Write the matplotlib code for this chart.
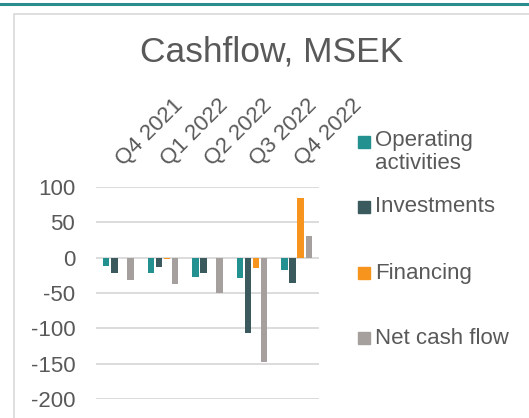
import matplotlib
matplotlib.use('Agg')
from matplotlib import pyplot as plt
from matplotlib.patches import Rectangle
from matplotlib.lines import Line2D
import matplotlib.transforms as mtransforms
import numpy as np

plt.rcParams['font.family'] = ['Liberation Sans', 'DejaVu Sans']

# data
quarters = ['Q4 2021', 'Q1 2022', 'Q2 2022', 'Q3 2022', 'Q4 2022']
series_names = ['Operating\nactivities', 'Investments', 'Financing', 'Net cash flow']
operating = [-12, -22, -28, -29, -17]
investments = [-22, -13, -22, -107, -36]
financing = [0, -2, 0, -14, 84]
net_cash_flow = [-32, -37, -50, -148, 31]
y_ticks = [100, 50, 0, -50, -100, -150, -200]

colors = ['#23918f', '#3a5a5e', '#f7941d', '#a5a09e']
text_col = '#595959'
fs = 16

W, H = 529, 418
fig = plt.figure(figsize=(W / 100, H / 100), dpi=100)

# top teal rule and light chart frame
fig.add_artist(Line2D([0, 1], [1 - 4 / H, 1 - 4 / H], color='#2a8c8c', lw=2.2,
                      transform=fig.transFigure))
fig.add_artist(Rectangle((14 / W, -0.1), 1.2, 1 - 14 / H + 0.1, transform=fig.transFigure,
                         fill=False, edgecolor='#d9d9d9', lw=1.2))

fig.text(272 / W, 1 - 52 / H, 'Cashflow, MSEK', ha='center', va='center',
         fontsize=25.5, color=text_col)

ax = fig.add_axes([96 / W, 1 - 399 / H, 223 / W, 212 / H])
ax.set_xlim(-0.5, len(quarters) - 0.5)
ax.set_ylim(-200, 100)

x = np.arange(len(quarters))
slot = 0.18
width = 0.145
all_series = [operating, investments, financing, net_cash_flow]
for i, (vals, c) in enumerate(zip(all_series, colors)):
    ax.bar(x + (i - 1.5) * slot, vals, width=width, color=c, zorder=3)

ax.set_yticks(y_ticks)
ax.set_yticklabels([str(v) for v in y_ticks], fontsize=fs, color=text_col)
ax.tick_params(axis='y', length=0, pad=15)
ax.set_xticks([])
for s in ax.spines.values():
    s.set_visible(False)
ax.grid(axis='y', color='#d9d9d9', lw=1.3, zorder=0)

# rotated category labels above the plot
shift = mtransforms.ScaledTranslation(0, 17 / 100, fig.dpi_scale_trans)
for i, q in enumerate(quarters):
    ax.text(i + 0.2, 1.0, q, transform=ax.get_xaxis_transform() + shift, rotation=45,
            rotation_mode='anchor', ha='left', va='bottom', fontsize=fs,
            color=text_col)

# legend drawn by hand
leg_y = [142, 207, 273, 338]
for name, c, yy in zip(series_names, colors, leg_y):
    fig.add_artist(Rectangle((358 / W, 1 - (yy + 6) / H), 12 / W, 12 / H,
                             transform=fig.transFigure, color=c))
    if '\n' in name:
        fig.text(375 / W, 1 - (yy - 12) / H, name, ha='left', va='top',
                 fontsize=fs, color=text_col, linespacing=1.1)
    else:
        fig.text(375 / W, 1 - yy / H, name, ha='left', va='center',
                 fontsize=fs, color=text_col)

fig.savefig('out.png', dpi=100)
